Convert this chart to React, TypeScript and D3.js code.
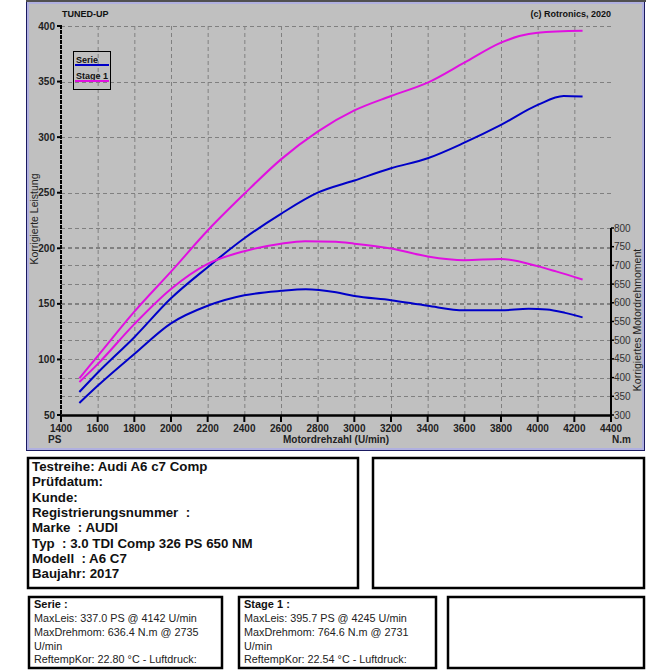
import React from "react";
import * as d3 from "d3";

const rpmTicks = [1400, 1600, 1800, 2000, 2200, 2400, 2600, 2800, 3000, 3200, 3400, 3600, 3800, 4000, 4200, 4400];
const powerTicks = [50, 100, 150, 200, 250, 300, 350, 400];
const torqueTicks = [300, 350, 400, 450, 500, 550, 600, 650, 700, 750, 800];

const serieRpm = [1500, 1600, 1800, 2000, 2200, 2400, 2600, 2800, 3000, 3200, 3400, 3600, 3800, 4000, 4142, 4245];
const seriePower = [70.7, 88, 120, 155, 183, 209, 231, 250, 261, 272, 281, 295, 311, 329, 337, 336.5];
const serieTorqueRpm = [1500, 1600, 1800, 2000, 2200, 2400, 2600, 2735, 2900, 3000, 3200, 3400, 3600, 3800, 3950, 4050, 4150, 4245];
const serieTorque = [332, 378, 463, 545, 592, 620, 632, 636.4, 628, 618, 607, 592, 580, 580, 584, 582, 573, 561];

const stageRpm = [1500, 1600, 1800, 2000, 2200, 2400, 2600, 2800, 3000, 3200, 3400, 3600, 3800, 3900, 4000, 4245];
const stagePower = [83, 103, 143, 179, 216, 249, 280, 305, 324, 337, 349, 367, 385, 391, 394, 395.7];
const stageTorqueRpm = [1500, 1600, 1800, 2000, 2200, 2400, 2600, 2731, 2900, 3000, 3200, 3400, 3600, 3800, 4000, 4100, 4245];
const stageTorque = [388, 436, 543, 637, 704, 738, 758, 764.6, 763, 758, 745, 724, 714, 717, 698, 684, 662];

const infoLines = [
  "Testreihe: Audi A6 c7 Comp",
  "Prüfdatum:",
  "Kunde:",
  "Registrierungsnummer  :",
  "Marke  : AUDI",
  "Typ  : 3.0 TDI Comp 326 PS 650 NM",
  "Modell  : A6 C7",
  "Baujahr: 2017",
];
const serieLines = ["MaxLeis: 337.0 PS @ 4142 U/min", "MaxDrehmom: 636.4 N.m @ 2735", "U/min", "ReftempKor: 22.80 °C - Luftdruck:"];
const stageLines = ["MaxLeis: 395.7 PS @ 4245 U/min", "MaxDrehmom: 764.6 N.m @ 2731", "U/min", "ReftempKor: 22.54 °C - Luftdruck:"];

const BLUE = "#0000c8";
const MAGENTA = "#e010e0";
const FONT = "'Liberation Sans', Arial, sans-serif";

export default function App() {
  const x = d3.scaleLinear().domain([1400, 4400]).range([61, 611]);
  const yP = d3.scaleLinear().domain([50, 400]).range([415, 26]);
  const yT = d3.scaleLinear().domain([300, 800]).range([415, 228]);

  const lineP = (rpm: number[], v: number[]) =>
    d3.line<number>().x((_, i) => x(rpm[i])).y((d) => yP(d)).curve(d3.curveMonotoneX)(v) || "";
  const lineT = (rpm: number[], v: number[]) =>
    d3.line<number>().x((_, i) => x(rpm[i])).y((d) => yT(d)).curve(d3.curveMonotoneX)(v) || "";

  const gridYs = Array.from(new Set([...powerTicks.map((t) => Math.round(yP(t))), ...torqueTicks.map((t) => Math.round(yT(t)))]));

  return (
    <svg width={672} height={672} style={{ position: "absolute", left: 0, top: 0, background: "#fff" }} fontFamily={FONT}>
      <rect x={0} y={0} width={672} height={672} fill="#fff" />
      {/* panel */}
      <rect x={27.5} y={2.5} width={616} height={447} fill="#c0c0c0" stroke="#b0b0e0" strokeWidth={3} />
      <rect x={26.5} y={1.5} width={618} height={449} fill="none" stroke="#1a1a60" strokeWidth={1} />
      <line x1={26} x2={646} y1={1} y2={1} stroke="#505050" strokeWidth={2} />

      {/* grid */}
      {rpmTicks.slice(1, -1).map((t) => (
        <line key={"gx" + t} x1={x(t) + 0.5} x2={x(t) + 0.5} y1={26} y2={415} stroke="#808080" strokeDasharray="4,3" strokeWidth={1} />
      ))}
      {gridYs.filter((g) => g < 414).map((g) => (
        <line key={"gy" + g} x1={61} x2={611} y1={g + 0.5} y2={g + 0.5} stroke="#808080" strokeDasharray="4,3" strokeWidth={1} />
      ))}

      {/* curves */}
      <path d={lineP(serieRpm, seriePower)} fill="none" stroke={BLUE} strokeWidth={2} />
      <path d={lineT(serieTorqueRpm, serieTorque)} fill="none" stroke={BLUE} strokeWidth={2} />
      <path d={lineP(stageRpm, stagePower)} fill="none" stroke={MAGENTA} strokeWidth={2} />
      <path d={lineT(stageTorqueRpm, stageTorque)} fill="none" stroke={MAGENTA} strokeWidth={2} />

      {/* axes */}
      <line x1={61} x2={61} y1={25} y2={416} stroke="#000" strokeWidth={2} strokeDasharray="4,1" />
      <line x1={60} x2={612} y1={415.5} y2={415.5} stroke="#000" strokeWidth={2.5} />
      <line x1={611} x2={611} y1={228} y2={416} stroke="#000" strokeWidth={2} />
      {powerTicks.map((t) => (
        <g key={"pt" + t}>
          <line x1={57} x2={61} y1={yP(t)} y2={yP(t)} stroke="#000" strokeWidth={2} />
          <text x={55} y={yP(t) + 3.5} textAnchor="end" fontSize={10} fontWeight="bold" fill="#222">{t}</text>
        </g>
      ))}
      {rpmTicks.map((t) => (
        <g key={"xt" + t}>
          <line x1={x(t)} x2={x(t)} y1={415} y2={422} stroke="#000" strokeWidth={2} />
          <text x={x(t)} y={432} textAnchor="middle" fontSize={10} fontWeight="bold" fill="#222">{t}</text>
        </g>
      ))}
      {torqueTicks.map((t) => (
        <g key={"tt" + t}>
          <line x1={611} x2={614} y1={yT(t)} y2={yT(t)} stroke="#000" strokeWidth={1.5} />
          <text x={614} y={yT(t) + 3.5} fontSize={10} fill="#333">{t}</text>
        </g>
      ))}

      {/* axis titles */}
      <text x={48} y={443} fontSize={10} fontWeight="bold" fill="#222">PS</text>
      <text x={336} y={443} textAnchor="middle" fontSize={10} fontWeight="bold" fill="#222">Motordrehzahl (U/min)</text>
      <text x={612} y={443} fontSize={10} fontWeight="bold" fill="#222">N.m</text>
      <text transform="translate(38,219) rotate(-90)" textAnchor="middle" fontSize={10.5} fill="#222">Korrigierte Leistung</text>
      <text transform="translate(641,320) rotate(-90)" textAnchor="middle" fontSize={10.5} fill="#222">Korrigiertes Motordrehmoment</text>
      <text x={62} y={17} fontSize={9} fontWeight="bold" fill="#111">TUNED-UP</text>
      <text x={611} y={17} textAnchor="end" fontSize={9} fontWeight="bold" fill="#111">(c) Rotronics, 2020</text>

      {/* legend */}
      <rect x={73.5} y={51.5} width={37} height={38} fill="none" stroke="#000" strokeWidth={1} />
      <text x={76} y={63} fontSize={9} fontWeight="bold" fill="#111">Serie</text>
      <line x1={75} x2={109} y1={65} y2={65} stroke={BLUE} strokeWidth={2} />
      <text x={76} y={79} fontSize={9} fontWeight="bold" fill="#111">Stage 1</text>
      <line x1={75} x2={109} y1={81} y2={81} stroke={MAGENTA} strokeWidth={2} />

      {/* info box */}
      <rect x={28} y={458} width={330} height={130} fill="#fff" stroke="#000" strokeWidth={2.5} />
      {infoLines.map((l, i) => (
        <text key={"il" + i} x={32} y={471 + i * 15.3} fontSize={13.3} fontWeight="bold" fill="#111" style={{ whiteSpace: "pre" }}>{l}</text>
      ))}
      <rect x={373} y={458} width={271} height={130} fill="#fff" stroke="#000" strokeWidth={2.5} />

      {/* bottom boxes */}
      <rect x={29} y={597} width={193} height={71} fill="#fff" stroke="#000" strokeWidth={2.5} />
      <text x={34} y={608} fontSize={11} fontWeight="bold" fill="#111">Serie :</text>
      {serieLines.map((l, i) => (
        <text key={"sl" + i} x={34} y={622 + i * 13.8} fontSize={10.8} fill="#222">{l}</text>
      ))}
      <rect x={239} y={597} width={197} height={71} fill="#fff" stroke="#000" strokeWidth={2.5} />
      <text x={244} y={608} fontSize={11} fontWeight="bold" fill="#111">Stage 1 :</text>
      {stageLines.map((l, i) => (
        <text key={"stl" + i} x={244} y={622 + i * 13.8} fontSize={10.8} fill="#222">{l}</text>
      ))}
      <rect x={448} y={597} width={196} height={71} fill="#fff" stroke="#000" strokeWidth={2.5} />
    </svg>
  );
}
